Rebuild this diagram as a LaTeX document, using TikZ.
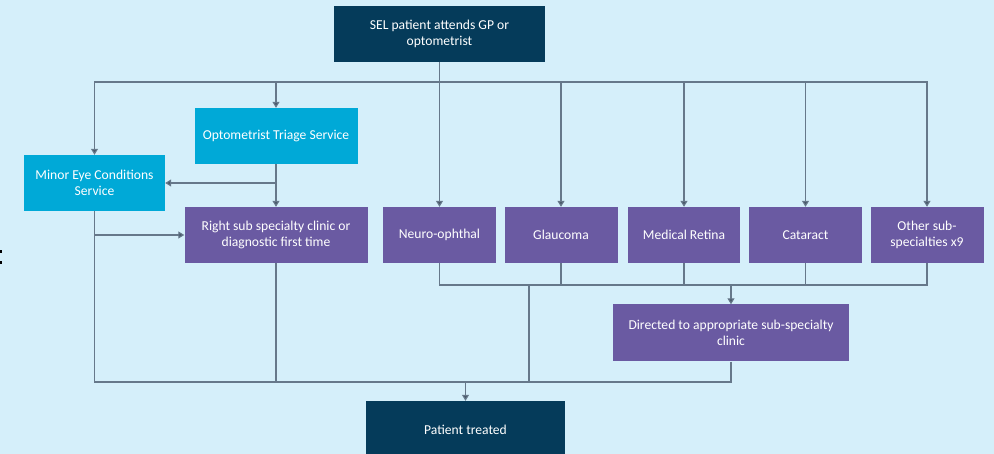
\documentclass[tikz,border=0pt]{standalone}
\usepackage{fontspec}
\setmainfont{Carlito}
\usetikzlibrary{arrows.meta}
\definecolor{bgc}{HTML}{D5EFFA}
\definecolor{navy}{HTML}{053B5A}
\definecolor{cyanbox}{HTML}{00A9D7}
\definecolor{purp}{HTML}{6A5AA2}
\definecolor{linec}{HTML}{66788A}
\definecolor{tipc}{HTML}{4A5A6A}
\tikzset{
  box/.style={inner sep=0pt, align=center, text=white, font=\fontsize{13.6}{16.5}\selectfont},
  navybox/.style={box, fill=navy},
  cyanb/.style={box, fill=cyanbox},
  purpbox/.style={box, fill=purp},
  conn/.style={draw=linec, line width=1.1pt},
  arr/.style={conn, -{Triangle[width=7pt,length=6pt,fill=tipc]}},
}
\begin{document}
\begin{tikzpicture}[x=1pt,y=-1pt]
\useasboundingbox (0,0) rectangle (994,454);
\fill[bgc] (0,0) rectangle (994,454);
\clip (0,0) rectangle (994,454);
\fill[black] (0,250) rectangle (2,253);
\fill[black] (0,261) rectangle (2,264);

\node[navybox, minimum width=211pt, minimum height=56pt] (sel) at (439.5,34) {SEL patient attends GP or\\optometrist};
\node[cyanb, minimum width=163pt, minimum height=56pt] (tri) at (276,136) {Optometrist Triage Service};
\node[cyanb, minimum width=141pt, minimum height=56pt] (mec) at (94.5,183) {Minor Eye Conditions\\Service};
\node[purpbox, minimum width=183pt, minimum height=56pt] (rsc) at (276,235) {Right sub specialty clinic or\\diagnostic first time};
\node[purpbox, minimum width=113pt, minimum height=56pt] (neuro) at (439.5,235) {Neuro-ophthal};
\node[purpbox, minimum width=113pt, minimum height=56pt] (glau) at (561,235) {Glaucoma};
\node[purpbox, minimum width=112pt, minimum height=56pt] (medr) at (684,235) {Medical Retina};
\node[purpbox, minimum width=113pt, minimum height=56pt] (cat) at (805.5,235) {Cataract};
\node[purpbox, minimum width=113pt, minimum height=56pt] (oth) at (927,235) {Other sub-\\specialties x9};
\node[purpbox, minimum width=236pt, minimum height=57pt] (dir) at (731,333) {Directed to appropriate sub-specialty\\clinic};
\node[navybox, minimum width=199pt, minimum height=58pt] (pat) at (465.5,430) {Patient treated};

\coordinate (bus) at (439.5,82);
\coordinate (mid) at (731,285);
\coordinate (j1) at (529,285);
\coordinate (j2) at (529,382);
\coordinate (bot) at (465.5,382);

% top distribution
\draw[arr] (sel.south) -- (neuro.north);
\draw[arr] (bus) -| (mec.north);
\draw[arr] (bus) -| (tri.north);
\draw[arr] (bus) -| (glau.north);
\draw[arr] (bus) -| (medr.north);
\draw[arr] (bus) -| (cat.north);
\draw[arr] (bus) -| (oth.north);

% triage
\draw[arr] (tri.south) |- (mec.east);
\draw[arr] (tri.south) -- (rsc.north);

% minor eye
\draw[arr] (mec.south) |- (rsc.west);
\draw[conn] (mec.south) |- (bot);
\draw[conn] (rsc.south) |- (bot);

% specialties merge
\draw[conn] (neuro.south) |- (mid);
\draw[conn] (glau.south) |- (mid);
\draw[conn] (medr.south) |- (mid);
\draw[conn] (cat.south) |- (mid);
\draw[conn] (oth.south) |- (mid);
\draw[arr] (mid) -- (dir.north);
\draw[conn] (j1) -- (j2);
\draw[conn] (dir.south) |- (bot);
\draw[arr] (bot) -- (pat.north);
\end{tikzpicture}
\end{document}
